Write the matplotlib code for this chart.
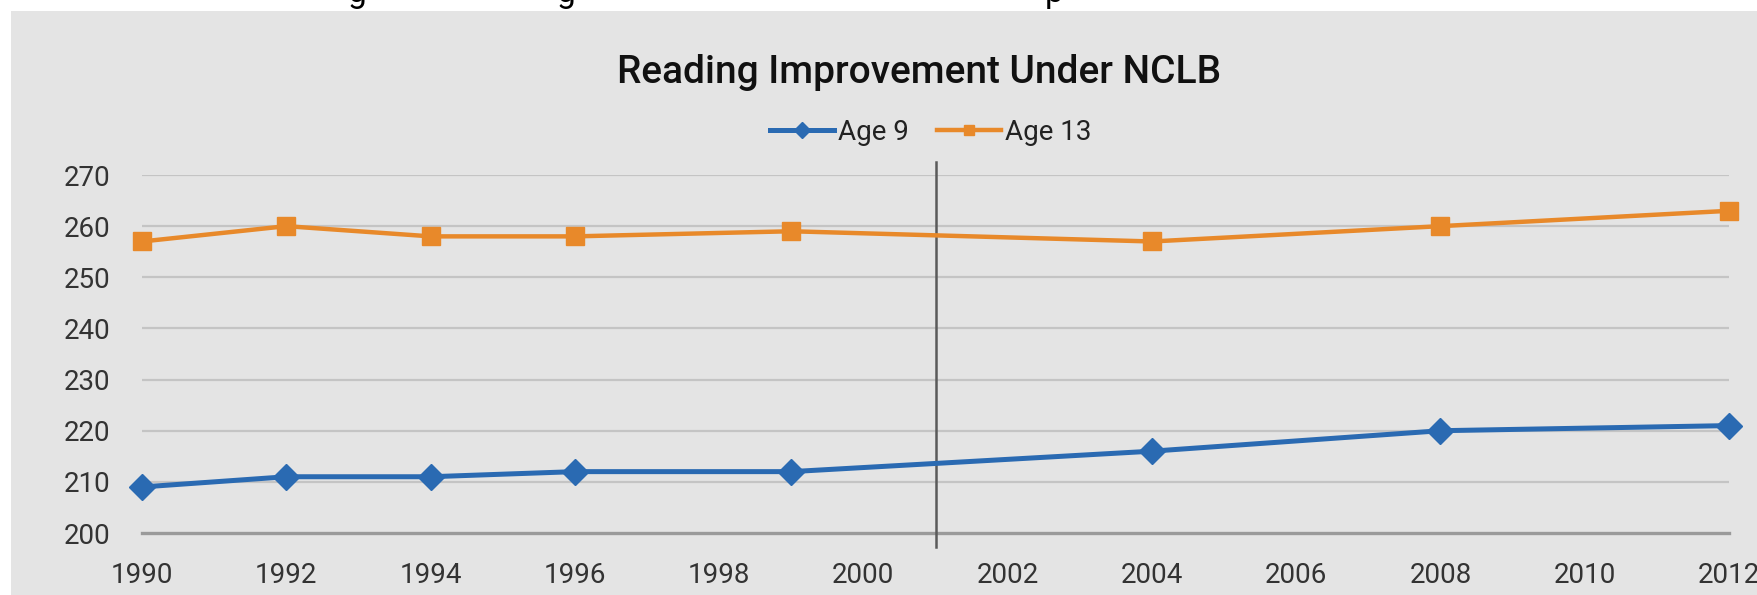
import matplotlib
matplotlib.use("Agg")
import matplotlib.pyplot as plt
from matplotlib.patches import Rectangle

years_9 = [1990, 1992, 1994, 1996, 1999, 2004, 2008, 2012]
age_9 = [209, 211, 211, 212, 212, 216, 220, 221]
years_13 = [1990, 1992, 1994, 1996, 1999, 2004, 2008, 2012]
age_13 = [257, 260, 258, 258, 259, 257, 260, 263]
x_ticks = list(range(1990, 2013, 2))
y_ticks = list(range(200, 271, 10))
nclb_year = 2001
title = "Reading Improvement Under NCLB"

plt.rcParams['font.family'] = ['Roboto', 'DejaVu Sans']

W, H = 1758, 595
fig = plt.figure(figsize=(W / 100, H / 100), dpi=100, facecolor='white')

bg = '#e4e4e4'
rect = Rectangle((11 / W, 0), 1 - 11 / W, 1 - 11 / H, transform=fig.transFigure,
                 facecolor=bg, edgecolor='none', zorder=5)
fig.patches.append(rect)

# clipped descenders of text above the chart
for ch, xp in [("g", 357), ("g", 566), ("p", 1054)]:
    fig.text(xp / W, 1 - 2 / H, ch, fontsize=24, ha='center', va='baseline',
             color='black', zorder=1)

ax = fig.add_axes([142 / W, 1 - 533 / H, (1729 - 142) / W, (533 - 175) / H], zorder=10)
ax.set_facecolor('none')

blue = '#2a6ab2'
orange = '#e8892a'

ax.plot(years_9, age_9, color=blue, lw=3.6, marker='D', ms=13, mec=blue, mfc=blue,
        label='Age 9', clip_on=False, zorder=4)
ax.plot(years_13, age_13, color=orange, lw=3.2, marker='s', ms=13, mec=orange, mfc=orange,
        label='Age 13', clip_on=False, zorder=4)

ax.set_xlim(x_ticks[0], x_ticks[-1])
ax.set_ylim(y_ticks[0], y_ticks[-1])
ax.set_xticks(x_ticks)
ax.set_yticks(y_ticks)
ax.tick_params(axis='both', length=0, labelsize=20, colors='#333333')
ax.tick_params(axis='y', pad=23)
ax.tick_params(axis='x', pad=21)

for y in y_ticks[1:]:
    ax.axhline(y, color='#c4c4c4', lw=1.6, zorder=1)
ax.axhline(y_ticks[0], color='#9a9a9a', lw=2.4, zorder=2, clip_on=False)

ax.axvline(nclb_year, ymin=-0.039, ymax=1.036, color='#5a5a5a', lw=1.8,
           clip_on=False, zorder=3)

for s in ax.spines.values():
    s.set_visible(False)

fig.text(919 / W, 1 - 83 / H, title, fontsize=28, fontweight='medium',
         ha='center', va='baseline', color='#111111', zorder=10)

handles, labels = ax.get_legend_handles_labels()
leg = fig.legend(handles, labels, loc='center', bbox_to_anchor=(931 / W, 1 - 132 / H),
                 ncol=2, frameon=False, fontsize=20, handlelength=2.3,
                 handletextpad=0.15, columnspacing=1.0, markerscale=0.6)
leg.set_zorder(10)
for t in leg.get_texts():
    t.set_color('#222222')

fig.savefig('out.png', dpi=100, facecolor='white')
